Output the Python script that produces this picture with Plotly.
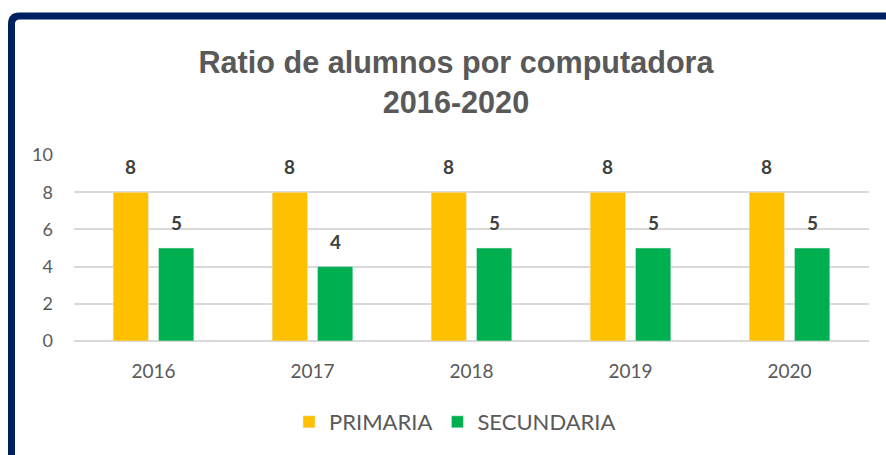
import plotly.graph_objects as go

years = ["2016", "2017", "2018", "2019", "2020"]
primaria = [8, 8, 8, 8, 8]
secundaria = [5, 4, 5, 5, 5]
y_ticks = [0, 2, 4, 6, 8, 10]

W, H = 886, 455
L, R, T, B = 74, 17, 155, 114
pw, ph = W - L - R, H - T - B


def px(x):
    return (x - L) / pw


def py(y):
    return (H - B - y) / ph


fig = go.Figure()
fig.add_trace(go.Bar(x=years, y=primaria, name="PRIMARIA", marker_color="#FFC000"))
fig.add_trace(go.Bar(x=years, y=secundaria, name="SECUNDARIA", marker_color="#00B050"))

# value labels, a bit higher above the bars than plotly's own outside text
for vals, shift in ((primaria, -22.6), (secundaria, 22.6)):
    for i, v in enumerate(vals):
        fig.add_annotation(x=i, y=v, text=f"<b>{v}</b>", showarrow=False,
                           xshift=shift, yshift=12, yanchor="bottom",
                           font=dict(family="Lato", size=19, color="#404040"))

# dark frame around the chart (cropped at right and bottom)
r = 8
frame = (f"M {px(11.5)} {py(470)} L {px(11.5)} {py(16 + r)} "
         f"Q {px(11.5)} {py(16)} {px(11.5 + r)} {py(16)} L {px(900)} {py(16)}")
fig.add_shape(type="path", path=frame, xref="paper", yref="paper",
              line=dict(color="#002060", width=7))

fig.update_layout(
    width=W, height=H,
    margin=dict(l=L, r=R, t=T, b=B, autoexpand=False),
    paper_bgcolor="white", plot_bgcolor="white",
    barmode="group", bargap=0.43, bargroupgap=0.22,
    title=dict(text="<b>Ratio de alumnos por computadora<br>2016-2020</b>",
               x=456 / W, xanchor="center", y=1 - 73 / H, yanchor="middle",
               font=dict(family="Liberation Sans", size=30.6, color="#595959")),
    xaxis=dict(type="category", showgrid=False, ticks="", showline=False,
               ticklabelstandoff=17,
               tickfont=dict(family="Lato", size=19, color="#595959")),
    yaxis=dict(range=[0, 10], tickvals=y_ticks, showgrid=True, gridcolor="#D9D9D9",
               gridwidth=1.5, zeroline=True, zerolinecolor="#D9D9D9", zerolinewidth=1.5,
               ticks="", ticklabelstandoff=20,
               tickfont=dict(family="Lato", size=18, color="#595959")),
    legend=dict(orientation="h", x=px(455), xanchor="center", y=py(422), yanchor="middle",
                font=dict(family="Lato", size=22, color="#595959"), itemwidth=30),
    showlegend=True,
)

fig.write_html("out.html", config={"displayModeBar": False},
               post_script="document.body.style.margin='0';")
